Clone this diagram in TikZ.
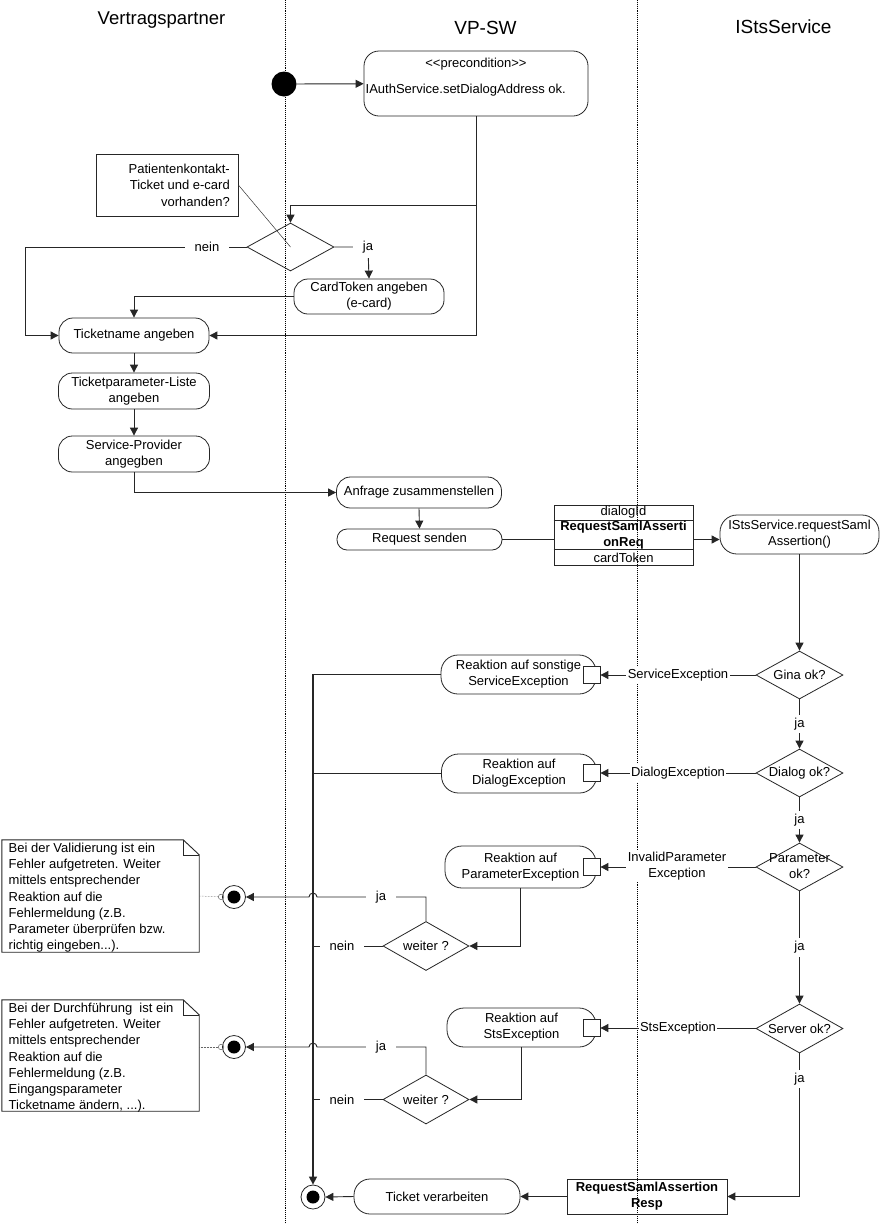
\documentclass[tikz,border=0pt]{standalone}
\usepackage{fontspec}
\setmainfont{Liberation Sans}
\usetikzlibrary{shapes.geometric,arrows.meta,calc}
\newcommand\bodyf{\fontsize{13}{16}\selectfont}
\newcommand\notef{\fontsize{13}{16.3}\selectfont}
\begin{document}
\begin{tikzpicture}[x=1pt,y=-1pt,
  every node/.style={inner sep=0pt, font=\bodyf, text=black},
  ln/.style={line width=0.9pt, draw=black!85},
  arr/.style={ln, -{Triangle[length=8pt,width=8pt]}},
  act/.style={draw=black!85, line width=0.8pt, align=center, rounded corners=14pt},
  dec/.style={draw=black!85, line width=0.8pt, diamond, align=center, minimum width=87pt, minimum height=48pt, inner sep=0pt},
  pinbox/.style={draw=black!85, line width=0.8pt, fill=white, minimum width=17pt, minimum height=17pt},
  lbl/.style={fill=white, inner xsep=1.5pt, inner ysep=3pt, align=center},
  lblw/.style={fill=white, inner xsep=10pt, inner ysep=5pt},
  head/.style={font=\fontsize{19}{22}\selectfont},
  endn/.style={circle, draw=black!85, line width=0.8pt, minimum size=23pt},
  bold/.style={font=\bodyf\bfseries, align=center}
]
\useasboundingbox (0,0) rectangle (880,1224);
\fill[white] (0,0) rectangle (880,1224);

% swimlanes
\draw[densely dotted, line width=0.9pt] (285,0) -- (285,1224);
\draw[densely dotted, line width=0.9pt] (637,0) -- (637,1224);
\node[font=\fontsize{18.5}{22}\selectfont] (h1) at (161.5,20) {Vertragspartner};
\node[head] (h2) at (485.5,28) {VP-SW};
\node[head] (h3) at (783.5,27) {IStsService};

% start and precondition
\node[circle, fill=black, minimum size=25pt] (start) at (284,84) {};
\node[act, rounded corners=15pt, minimum width=224pt, minimum height=65pt] (pre) at (476,83.5) {};
\node (pre1) at (476,64) {{<}{<}precondition{>}{>}};
\node[anchor=west] (pre2) at (365.5,90) {IAuthService.setDialogAddress ok.};
\draw[arr] (start) -- (pre);

% first decision
\node[dec] (dia1) at (290.5,247) {};
\node[draw=black!85, line width=0.8pt, minimum width=142pt, minimum height=62pt] (n0) at (167,185) {};
\node[anchor=east, align=right, font=\fontsize{13}{16.5}\selectfont] (n0t) at (230,185) {Patientenkontakt-\\Ticket und e-card\\vorhanden?};
\draw[line width=0.5pt, black!80] (n0.east) -- (dia1.center);

\node[act, minimum width=150pt, minimum height=35pt] (card) at (369,296.5) {CardToken angeben\\(e-card)};
\node[act, minimum width=150pt, minimum height=35pt] (tick) at (134,335.5) {Ticketname angeben};
\node[act, minimum width=151pt, minimum height=36pt] (tpl) at (134,391) {Ticketparameter-Liste\\angeben};
\node[act, minimum width=151pt, minimum height=36pt] (sp) at (134,454) {Service-Provider\\angegben};

\coordinate (j1) at (476,205);
\draw[ln] (pre.south) -- (j1);
\draw[arr] (j1) -| (dia1.north);
\draw[arr] (j1) |- (tick.east);
\draw[arr] (dia1.west) -- (25,247) |- (tick.west);
\node[lblw] (lnein0) at (207,247) {nein};
\draw[arr] (dia1.east) -- (368,247) -- (card.north);
\node[lblw] (lja0) at (368,247) {ja};
\draw[arr] (card.west) -| (tick.north);
\draw[arr] (tick.south) -- (tpl.north);
\draw[arr] (tpl.south) -- (sp.north);

% request
\node[act, minimum width=165pt, minimum height=31pt] (anf) at (419,492.5) {Anfrage zusammenstellen};
\node[act, rounded corners=10pt, minimum width=165pt, minimum height=21pt] (req) at (419.5,539.5) {Request senden};
\draw[arr] (sp.south) |- (anf.west);
\draw[arr] (anf.south) -- (req.north);

\node[draw=black!85, line width=0.8pt, minimum width=139pt, minimum height=60pt] (data) at (623.5,535.5) {};
\draw[line width=0.8pt, black!85] (data.west |- 0,520) -- (data.east |- 0,520);
\draw[line width=0.8pt, black!85] (data.west |- 0,549.5) -- (data.east |- 0,549.5);
\node (d1) at (623.5,512.5) {dialogId};
\node[bold] (d2) at (623.5,535) {RequestSamlAsserti\\onReq};
\node (d3) at (623.5,558) {cardToken};

\node[act, rounded corners=17pt, minimum width=159pt, minimum height=39pt] (rsa) at (799.5,534.5) {IStsService.requestSaml\\Assertion()};
\draw[ln] (req.east) -- (data.west |- req.east);
\draw[arr] (data.east |- req.east) -- (rsa.west |- req.east);

% decisions on the right
\node[dec] (gina) at (799.5,675) {};
\node (ginat) at (799.5,675) {Gina ok?};
\node[dec] (dia2) at (799.5,773) {};
\node (dia2t) at (799.5,773) {Dialog ok?};
\node[dec] (dia3) at (799.5,867) {};
\node[align=center] (dia3t) at (799.5,866.5) {Parameter\\ok?};
\node[dec, minimum height=49pt] (dia4) at (799.5,1028.5) {};
\node (dia4t) at (799.5,1028.5) {Server ok?};

\draw[arr] (rsa.south) -- (gina.north);
\draw[arr] (gina.south) -- node[lbl] (lja1) {ja} (dia2.north);
\draw[arr] (dia2.south) -- node[lbl] (lja2) {ja} (dia3.north);
\draw[arr] (dia3.south) -- node[lbl] (lja3) {ja} (dia4.north);

% reaction boxes
\node[act, rounded corners=17pt, minimum width=155pt, minimum height=39pt] (r1) at (518.5,674.5) {Reaktion auf sonstige\\ServiceException};
\node[act, rounded corners=17pt, minimum width=155pt, minimum height=39pt] (r2) at (519,773.5) {Reaktion auf\\DialogException};
\node[act, rounded corners=17pt, minimum width=151pt, minimum height=42pt] (r3) at (520.5,867) {Reaktion auf\\ParameterException};
\node[act, rounded corners=17pt, minimum width=149pt, minimum height=39pt] (r4) at (521.5,1027.5) {Reaktion auf\\StsException};
\node[pinbox] (p1) at (591.5,675) {};
\node[pinbox] (p2) at (591.5,773) {};
\node[pinbox] (p3) at (591.5,867) {};
\node[pinbox] (p4) at (591.5,1028) {};

\draw[arr] (gina.west) -- (p1.east);
\node[lbl] (le1) at (678,675) {ServiceException};
\draw[arr] (dia2.west) -- (p2.east);
\node[lbl] (le2) at (678,773) {DialogException};
\draw[arr] (dia3.west) -- (p3.east);
\node[lbl, inner ysep=1pt] (le3) at (677,866.5) {InvalidParameter\\Exception};
\draw[arr] (dia4.west |- p4.east) -- (p4.east);
\node[lbl] (le4) at (678,1028) {StsException};

% weiter decisions
\node[dec, minimum width=86pt, minimum height=49pt] (w1) at (426,946) {};
\node (w1t) at (426,946) {weiter ?};
\node[dec, minimum width=86pt, minimum height=49pt] (w2) at (426,1099.5) {};
\node (w2t) at (426,1099.5) {weiter ?};
\draw[arr] (r3.south) |- (w1.east);
\draw[arr] (r4.south) |- (w2.east);

% end nodes
\node[endn] (e1) at (234,897) {};
\fill[black] (e1.center) circle (6.5pt);
\node[endn] (e2) at (234,1047) {};
\fill[black] (e2.center) circle (6.5pt);
\node[endn, minimum size=24pt] (e3) at (313,1197) {};
\fill[black] (e3.center) circle (6.5pt);

% main collecting line
\draw[arr, line width=1.4pt] (r1.west) -| (e3.north);
\draw[ln] (r2.west) -- (r2.west -| e3.north);
\draw[ln] (w1.west) -- (w1.west -| e3.north);
\node[lblw] (lnein1) at (342,946) {nein};
\draw[ln] (w2.west) -- (w2.west -| e3.north);
\node[lblw] (lnein2) at (342,1099.5) {nein};

\draw[arr] (w1.north) |- (317,897) arc[start angle=0, end angle=180, radius=4pt] -- (e1.east);
\node[lblw] (lja4) at (381,897) {ja};
\draw[arr] (w2.north) |- (317,1047) arc[start angle=0, end angle=180, radius=4pt] -- (e2.east);
\node[lblw] (lja5) at (381,1047) {ja};

% notes
\node[minimum width=197pt, minimum height=112pt] (n1) at (100.5,896) {};
\draw[line width=0.9pt, black!85] (n1.south west) -- (n1.north west) -- ([xshift=-16pt]n1.north east) -- ([yshift=-15pt]n1.north east) -- (n1.south east) -- cycle;
\draw[line width=0.6pt, black!85] ([xshift=-16pt]n1.north east) -- ([xshift=-16pt,yshift=-15pt]n1.north east) -- ([yshift=-15pt]n1.north east);
\node[anchor=north west, align=left, font=\notef] (n1t) at (8.5,842.5) {Bei der Validierung ist ein\\Fehler aufgetreten. Weiter\\mittels entsprechender\\Reaktion auf die\\Fehlermeldung (z.B.\\Parameter überprüfen bzw.\\richtig eingeben...).};
\draw[densely dotted, line width=0.5pt, black!60, -{Circle[open, length=6pt, width=6pt]}] (n1.east) -- ([xshift=2pt]e1.west);

\node[minimum width=197pt, minimum height=111pt] (n2) at (100.5,1055.5) {};
\draw[line width=0.9pt, black!85] (n2.south west) -- (n2.north west) -- ([xshift=-16pt]n2.north east) -- ([yshift=-15pt]n2.north east) -- (n2.south east) -- cycle;
\draw[line width=0.6pt, black!85] ([xshift=-16pt]n2.north east) -- ([xshift=-16pt,yshift=-15pt]n2.north east) -- ([yshift=-15pt]n2.north east);
\node[anchor=north west, align=left, font=\notef] (n2t) at (8.5,1002.5) {Bei der Durchführung~ ist ein\\Fehler aufgetreten. Weiter\\mittels entsprechender\\Reaktion auf die\\Fehlermeldung (z.B.\\Eingangsparameter\\Ticketname ändern, ...).};
\draw[densely dotted, line width=0.5pt, black!60, -{Circle[open, length=6pt, width=6pt]}] (n2.east |- e2.west) -- ([xshift=2pt]e2.west);

% response
\node[draw=black!85, line width=0.8pt, minimum width=160pt, minimum height=35pt, bold] (resp) at (647,1196.5) {RequestSamlAssertion\\Resp};
\node[act, rounded corners=16pt, minimum width=166pt, minimum height=35pt] (tv) at (437,1196.5) {Ticket verarbeiten};
\draw[arr] (dia4.south) |- (resp.east);
\node[lbl] (lja6) at (799.5,1079) {ja};
\draw[arr] (resp.west) -- (tv.east);
\draw[arr] (tv.west) -- (e3.east);
\end{tikzpicture}
\end{document}
